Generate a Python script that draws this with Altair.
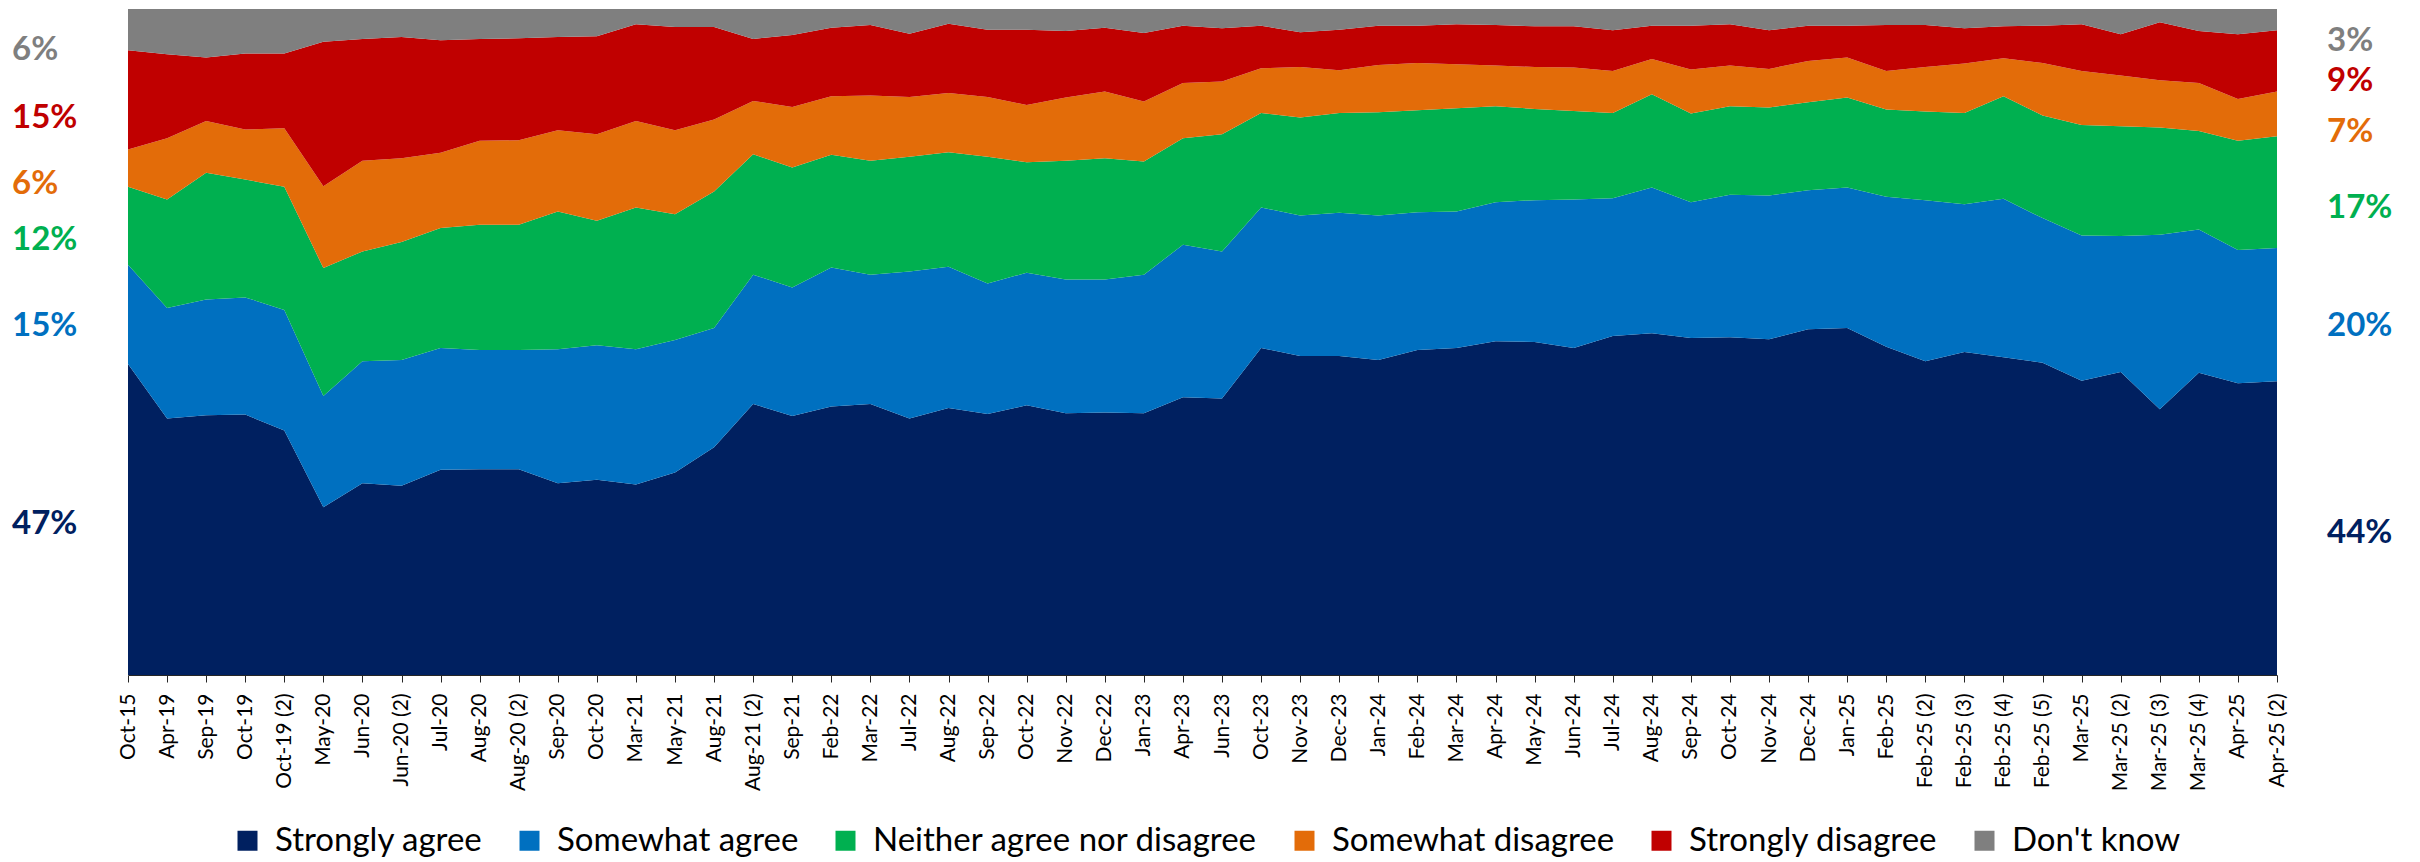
import altair as alt
import pandas as pd

categories = [
    "Oct-15", "Apr-19", "Sep-19", "Oct-19", "Oct-19 (2)", "May-20", "Jun-20", "Jun-20 (2)",
    "Jul-20", "Aug-20", "Aug-20 (2)", "Sep-20", "Oct-20", "Mar-21", "May-21", "Aug-21",
    "Aug-21 (2)", "Sep-21", "Feb-22", "Mar-22", "Jul-22", "Aug-22", "Sep-22", "Oct-22",
    "Nov-22", "Dec-22", "Jan-23", "Apr-23", "Jun-23", "Oct-23", "Nov-23", "Dec-23",
    "Jan-24", "Feb-24", "Mar-24", "Apr-24", "May-24", "Jun-24", "Jul-24", "Aug-24",
    "Sep-24", "Oct-24", "Nov-24", "Dec-24", "Jan-25", "Feb-25", "Feb-25 (2)", "Feb-25 (3)",
    "Feb-25 (4)", "Feb-25 (5)", "Mar-25", "Mar-25 (2)", "Mar-25 (3)", "Mar-25 (4)",
    "Apr-25", "Apr-25 (2)",
]

strongly_agree = [
    46.7, 38.5, 39.0, 39.1, 36.7, 25.2, 28.8, 28.4, 30.8, 30.9, 30.9, 28.8, 29.3, 28.6,
    30.4, 34.2, 40.7, 38.9, 40.3, 40.7, 38.5, 40.1, 39.2, 40.5, 39.3, 39.4, 39.3, 41.7,
    41.5, 49.1, 47.9, 47.9, 47.3, 48.8, 49.1, 50.1, 50.0, 49.1, 50.9, 51.3, 50.6, 50.7,
    50.4, 51.9, 52.1, 49.3, 47.1, 48.5, 47.7, 46.9, 44.2, 45.5, 39.9, 45.4, 43.8, 44.1,
]
somewhat_agree = [
    14.9, 16.6, 17.4, 17.6, 18.1, 16.7, 18.3, 18.9, 18.3, 17.9, 17.9, 20.1, 20.2, 20.3,
    19.9, 17.9, 19.4, 19.3, 20.9, 19.4, 22.1, 21.2, 19.6, 19.9, 20.1, 20.0, 20.8, 22.9,
    22.1, 21.1, 21.1, 21.5, 21.7, 20.7, 20.5, 20.9, 21.3, 22.3, 20.7, 21.9, 20.4, 21.4,
    21.6, 20.9, 21.1, 22.5, 24.2, 22.2, 23.8, 21.7, 21.8, 20.4, 26.2, 21.5, 20.0, 20.0,
]
neither = [
    11.7, 16.3, 19.0, 17.7, 18.5, 19.2, 16.5, 17.7, 18.0, 18.8, 18.8, 20.7, 18.7, 21.3,
    18.9, 20.5, 18.1, 18.0, 16.9, 17.1, 17.2, 17.2, 19.0, 16.6, 17.8, 18.2, 17.0, 16.0,
    17.6, 14.2, 14.7, 15.0, 15.5, 15.3, 15.5, 14.4, 13.7, 13.3, 12.8, 14.0, 13.3, 13.3,
    13.2, 13.2, 13.5, 13.1, 13.3, 13.7, 15.4, 15.4, 16.6, 16.5, 16.1, 14.8, 16.4, 16.8,
]
somewhat_disagree = [
    5.6, 9.2, 7.8, 7.5, 8.8, 12.3, 13.6, 12.6, 11.3, 12.6, 12.7, 12.2, 13.0, 13.0,
    12.6, 10.8, 8.0, 9.1, 8.8, 9.8, 9.0, 8.9, 9.0, 8.6, 9.5, 10.0, 9.0, 8.3,
    7.9, 6.7, 7.6, 6.4, 7.1, 7.1, 6.6, 6.1, 6.3, 6.5, 6.3, 5.3, 6.6, 6.1,
    5.8, 6.2, 6.0, 5.8, 6.7, 7.4, 5.7, 7.9, 8.1, 7.6, 7.1, 7.2, 6.3, 6.7,
]
strongly_disagree = [
    14.9, 12.6, 9.5, 11.4, 11.2, 21.7, 18.3, 18.2, 16.9, 15.3, 15.3, 14.0, 14.7, 14.5,
    15.5, 13.9, 9.3, 10.8, 10.3, 10.6, 9.5, 10.4, 10.1, 11.3, 10.0, 9.6, 10.3, 8.6,
    8.0, 6.4, 5.2, 6.1, 5.9, 5.6, 6.0, 6.1, 6.1, 6.2, 6.1, 5.0, 6.6, 6.2,
    5.8, 5.3, 4.8, 6.9, 6.3, 5.3, 4.8, 5.6, 7.0, 6.2, 8.7, 7.8, 9.7, 9.2,
]
dont_know = [
    6.2, 6.8, 7.3, 6.7, 6.7, 4.9, 4.5, 4.2, 4.7, 4.5, 4.4, 4.2, 4.1, 2.3,
    2.7, 2.7, 4.5, 3.9, 2.8, 2.4, 3.7, 2.2, 3.1, 3.1, 3.3, 2.8, 3.6, 2.5,
    2.9, 2.5, 3.5, 3.1, 2.5, 2.5, 2.3, 2.4, 2.6, 2.6, 3.2, 2.5, 2.5, 2.3,
    3.2, 2.5, 2.5, 2.4, 2.4, 2.9, 2.6, 2.5, 2.3, 3.8, 2.0, 3.3, 3.8, 3.2,
]

series_names = [
    "Strongly agree", "Somewhat agree", "Neither agree nor disagree",
    "Somewhat disagree", "Strongly disagree", "Don't know",
]
series_colors = ["#002060", "#0070C0", "#00B050", "#E36C09", "#C00000", "#7F7F7F"]
series_values = [strongly_agree, somewhat_agree, neither, somewhat_disagree,
                 strongly_disagree, dont_know]

rows = []
for k, (name, vals) in enumerate(zip(series_names, series_values)):
    for i, (c, v) in enumerate(zip(categories, vals)):
        rows.append({"cat": c, "idx": i, "series": name, "k": k, "value": v})
df = pd.DataFrame(rows)

lab_rows = []
for side, pos in (("left", 0), ("right", len(categories) - 1)):
    cum = 0.0
    for k, (name, vals) in enumerate(zip(series_names, series_values)):
        v = vals[pos]
        lab_rows.append({
            "cat": categories[pos], "series": name, "side": side,
            "mid": cum + v / 2, "text": f"{round(v)}%", "tcolor": series_colors[k],
        })
        cum += v
lab_df = pd.DataFrame(lab_rows)

FONT = "Lato"
x_scale = alt.Scale(domain=categories, padding=0)
color_scale = alt.Scale(domain=series_names, range=series_colors)
x_axis = alt.Axis(title=None, labelAngle=-90, labelFont=FONT, labelFontSize=21,
                  labelColor="#000000", tickSize=7, tickColor="#262626",
                  domainColor="#262626", labelPadding=11, labelLimit=400, grid=False)
x_enc = alt.X("cat:N", scale=x_scale, sort=categories, axis=x_axis)

area = alt.Chart(df).mark_area(interpolate="linear").encode(
    x=x_enc,
    y=alt.Y("value:Q", stack="zero",
            scale=alt.Scale(domain=[0, 100], nice=False, zero=True), axis=None),
    color=alt.Color("series:N", scale=color_scale, sort=series_names,
                    legend=alt.Legend(title=None)),
    order=alt.Order("k:Q", sort="ascending"),
)

label_y = alt.Y("mid:Q", scale=alt.Scale(domain=[0, 103.3], nice=False), axis=None)

left = alt.Chart(lab_df[lab_df.side == "left"]).mark_text(
    align="left", baseline="middle", dx=-116, font=FONT, fontSize=33, fontWeight="bold"
).encode(
    x=x_enc,
    y=label_y,
    text="text:N",
    color=alt.Color("tcolor:N", scale=None),
)

right = alt.Chart(lab_df[lab_df.side == "right"]).mark_text(
    align="left", baseline="middle", dx=50, font=FONT, fontSize=33, fontWeight="bold"
).encode(
    x=x_enc,
    y=label_y,
    text="text:N",
    color=alt.Color("tcolor:N", scale=None),
)

chart = alt.layer(area, left, right).resolve_scale(y="independent").properties(
    width=2149, height=666,
    padding={"left": 4, "top": 0, "right": 0, "bottom": 0},
).configure_view(stroke=None).configure_legend(
    orient="none", legendX=103, legendY=815, direction="horizontal",
    symbolType="square", symbolSize=400, symbolStrokeWidth=0,
    labelFont=FONT, labelFontSize=33, labelColor="#000000", labelLimit=1000,
    labelOffset=11, columnPadding=30, columns=6,
)

chart.save("out.html", embed_options={"renderer": "svg", "actions": False})
